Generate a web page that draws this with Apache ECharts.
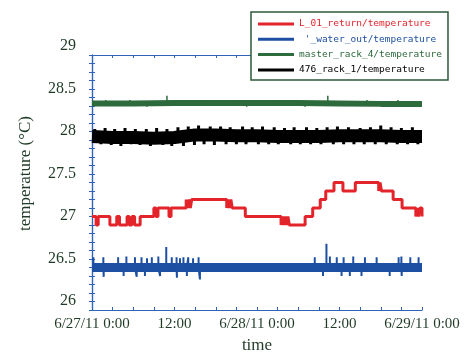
<!DOCTYPE html>
<html><head><meta charset="utf-8">
<script src="https://cdn.jsdelivr.net/npm/echarts@6/dist/echarts.min.js"></script>
<style>html,body{margin:0;padding:0;background:#fff}#c{width:465px;height:353px}</style>
</head><body><div id="c"></div><script>
// ---- data ----
const seriesNames = ['L_01_return/temperature', " '_water_out/temperature", 'master_rack_4/temperature', '476_rack_1/temperature'];
const xTickHours = [0, 12, 24, 36, 48];
const xTickLabels = ['6/27/11 0:00', '12:00', '6/28/11 0:00', '12:00', '6/29/11 0:00'];

// L_01_return (step values, hours since 6/27/11 0:00)
const redTimes = [0, 0.6, 0.9, 2.6, 3.6, 4.0, 5.1, 5.4, 5.8, 6.2, 7.0, 9.0, 9.3, 9.6, 11.2, 11.5, 13.7, 13.9, 14.1, 14.3, 14.5, 19.6, 19.8, 20.0, 20.2, 20.4, 22.3, 27.5, 27.7, 27.9, 28.1, 28.3, 28.5, 28.7, 28.9, 31.0, 32.1, 33.2, 34.0, 35.2, 36.5, 38.3, 41.7, 41.9, 42.1, 43.8, 45.1, 47.1, 47.3, 47.5, 47.7, 48];
const redValues = [27.0, 26.9, 27.0, 26.9, 27.0, 26.9, 27.0, 26.9, 27.0, 26.9, 27.0, 27.1, 27.0, 27.1, 27.0, 27.1, 27.2, 27.1, 27.2, 27.1, 27.2, 27.1, 27.2, 27.1, 27.2, 27.1, 27.0, 26.9, 27.0, 26.9, 27.0, 26.9, 27.0, 26.9, 26.9, 27.0, 27.1, 27.2, 27.3, 27.4, 27.3, 27.4, 27.3, 27.4, 27.3, 27.2, 27.1, 27.0, 27.1, 27.0, 27.1, 27.0];

// water_out: band + spikes
const blueBandTimes = [0, 6, 12, 18, 24, 30, 36, 42, 48];
const blueBandValues = [26.40, 26.40, 26.40, 26.40, 26.40, 26.40, 26.40, 26.40, 26.40];
const blueBase = 26.40;
const blueSpikeTimes = [0.2, 1.65, 1.7, 3.8, 4.6, 5.0, 6.25, 6.5, 7.2, 7.7, 8.0, 8.7, 9.65, 9.9, 10.8, 11.6, 12.3, 12.35, 12.8, 13.3, 13.8, 14.0, 14.7, 15.5, 15.7, 32.4, 33.6, 34.1, 34.6, 35.6, 36.3, 36.6, 37.5, 38.0, 39.2, 39.7, 41.4, 43.3, 44.6, 45.0, 45.05, 46.3, 47.5];
const blueSpikePeaks = [26.52, 26.52, 26.29, 26.52, 26.3, 26.53, 26.52, 26.29, 26.52, 26.3, 26.51, 26.52, 26.53, 26.3, 26.64, 26.52, 26.52, 26.28, 26.51, 26.52, 26.3, 26.52, 26.51, 26.52, 26.26, 26.52, 26.3, 26.68, 26.53, 26.52, 26.3, 26.52, 26.3, 26.53, 26.3, 26.52, 26.52, 26.3, 26.52, 26.53, 26.3, 26.52, 26.52];

// master_rack_4: band + spikes
const greenBandTimes = [0, 6, 12, 18, 24, 30, 36, 42, 48];
const greenBandValues = [28.33, 28.33, 28.335, 28.335, 28.335, 28.335, 28.33, 28.325, 28.325];
const greenBase = 28.33;
const greenSpikeTimes = [2.0, 5.5, 8.0, 10.9, 16.0, 20.5, 22.5, 27.0, 31.0, 34.3, 40.0, 44.5];
const greenSpikePeaks = [28.37, 28.37, 28.29, 28.42, 28.37, 28.37, 28.29, 28.37, 28.29, 28.42, 28.37, 28.37];

// 476_rack_1: band + spikes
const blackBandTimes = [0, 3, 6, 9, 12, 15, 18, 21, 24, 27, 30, 33, 36, 39, 42, 45, 48];
const blackBandValues = [27.94, 27.93, 27.93, 27.92, 27.93, 27.96, 27.96, 27.95, 27.95, 27.94, 27.94, 27.94, 27.95, 27.95, 27.95, 27.94, 27.94];
const blackBase = 27.94;
const blackSpikeTimes = [0.4, 1.3, 1.9, 2.8, 3.3, 4.2, 4.8, 5.7, 6.3, 7.0, 7.9, 8.5, 9.4, 10.3, 10.9, 11.6, 12.5, 13.3, 14.0, 14.9, 15.5, 16.3, 17.2, 17.8, 18.7, 19.5, 20.1, 21.0, 21.9, 22.4, 23.3, 24.2, 24.8, 25.7, 26.5, 27.1, 28.0, 28.9, 29.4, 30.3, 31.2, 31.8, 32.7, 33.3, 34.2, 35.1, 35.7, 36.6, 37.3, 38.1, 39.0, 39.6, 40.5, 41.2, 42.0, 42.8, 43.5, 44.4, 45.0, 45.9, 46.6, 47.4];
const blackSpikePeaks = [28.03, 27.85, 28.04, 27.84, 28.03, 27.83, 28.04, 27.85, 28.03, 27.84, 28.03, 27.83, 28.04, 27.84, 28.03, 27.83, 28.05, 27.83, 28.06, 27.84, 28.07, 27.85, 28.06, 27.84, 28.06, 27.85, 28.05, 27.85, 28.06, 27.85, 28.05, 27.85, 28.06, 27.85, 28.05, 27.85, 28.04, 27.85, 28.05, 27.85, 28.05, 27.85, 28.04, 27.85, 28.05, 27.85, 28.06, 27.85, 28.05, 27.85, 28.04, 27.85, 28.05, 27.85, 28.07, 27.85, 28.05, 27.85, 28.04, 27.85, 28.05, 27.85];

// ---- build ----
const colors = ['#e3242b', '#1d4fa2', '#2d6a3c', '#000000'];
const frameColor = '#2f62b8';
const textColor = '#1f3a26';
const pairs = (xs, ys) => xs.map((x, i) => [x, ys[i]]);
const spikes = (xs, ps, base) => {
  const out = [];
  xs.forEach((x, i) => { out.push([x, base], [x, ps[i]], [x, base]); });
  return out;
};
const xLabelMap = {};
xTickHours.forEach((h, i) => { xLabelMap[h] = xTickLabels[i]; });

const chart = echarts.init(document.getElementById('c'), null, {renderer: 'canvas'});
const serif = 'Liberation Serif';
const frameAxisX = (pos) => ({
  type: 'value', gridIndex: 1, position: pos, min: 0, max: 48, interval: 3,
  axisLine: {show: true, lineStyle: {color: frameColor, width: 1.2}},
  axisTick: {show: true, inside: true, length: 3, lineStyle: {color: frameColor, width: 1}},
  splitLine: {show: false}
});
const frameAxisY = (pos) => ({
  type: 'value', gridIndex: 1, position: pos, min: 25.9, max: 28.9, interval: 0.1,
  axisLine: {show: true, lineStyle: {color: frameColor, width: 1.2}},
  axisTick: {show: true, inside: true, length: 3, lineStyle: {color: frameColor, width: 1}},
  axisLabel: {show: false}, splitLine: {show: false}
});
const xBottom = frameAxisX('bottom');
xBottom.axisLabel = {show: true, margin: 7, fontFamily: serif, fontSize: 15, color: textColor,
  formatter: (v) => (xLabelMap[v] !== undefined ? xLabelMap[v] : ''), showMinLabel: true, showMaxLabel: true};
xBottom.name = 'time'; xBottom.nameLocation = 'middle'; xBottom.nameGap = 26;
xBottom.nameTextStyle = {fontFamily: serif, fontSize: 17, color: textColor};
const xTop = frameAxisX('top');
xTop.axisLabel = {show: false};

const common = {type: 'line', symbol: 'none', animation: false, xAxisIndex: 1, yAxisIndex: 1};
const option = {
  backgroundColor: '#ffffff',
  animation: false,
  grid: [
    {left: 92, right: 43, top: 46, bottom: 52, outerBoundsMode: 'none', containLabel: false},
    {left: 92, right: 43, top: 55, bottom: 43, outerBoundsMode: 'none', containLabel: false}
  ],
  xAxis: [
    {type: 'value', gridIndex: 0, min: 0, max: 48, show: false},
    xBottom, xTop
  ],
  yAxis: [
    {type: 'value', gridIndex: 0, min: 26, max: 29, interval: 0.5,
     axisLine: {show: false}, axisTick: {show: false}, splitLine: {show: false},
     axisLabel: {show: true, margin: 16, fontFamily: serif, fontSize: 16, color: textColor},
     name: 'temperature (°C)', nameLocation: 'middle', nameGap: 58,
     nameTextStyle: {fontFamily: serif, fontSize: 17, color: textColor}},
    frameAxisY('left'), frameAxisY('right')
  ],
  legend: {
    orient: 'vertical', left: 251, top: 12,
    padding: [6, 6, 4, 7], itemGap: 3.3, itemWidth: 36, itemHeight: 3, icon: 'rect',
    backgroundColor: '#ffffff', borderColor: '#2d5a3a', borderWidth: 1.5,
    textStyle: {fontFamily: 'DejaVu Sans Mono', fontSize: 9.5, lineHeight: 12},
    data: seriesNames.map((n, i) => ({name: n, textStyle: {color: colors[i]}})),
    selectedMode: false
  },
  series: [
    Object.assign({}, common, {name: seriesNames[2], data: pairs(greenBandTimes, greenBandValues),
      color: colors[2], lineStyle: {color: colors[2], width: 6}, itemStyle: {color: colors[2]}}),
    Object.assign({}, common, {name: 'g_sp', data: spikes(greenSpikeTimes, greenSpikePeaks, greenBase),
      color: colors[2], lineStyle: {color: colors[2], width: 1.5}}),
    Object.assign({}, common, {name: seriesNames[3], data: pairs(blackBandTimes, blackBandValues),
      color: colors[3], lineStyle: {color: colors[3], width: 13}, itemStyle: {color: colors[3]}}),
    Object.assign({}, common, {name: 'k_sp', data: spikes(blackSpikeTimes, blackSpikePeaks, blackBase),
      color: colors[3], lineStyle: {color: colors[3], width: 3}}),
    Object.assign({}, common, {name: seriesNames[1], data: pairs(blueBandTimes, blueBandValues),
      color: colors[1], lineStyle: {color: colors[1], width: 9}, itemStyle: {color: colors[1]}}),
    Object.assign({}, common, {name: 'b_sp', data: spikes(blueSpikeTimes, blueSpikePeaks, blueBase),
      color: colors[1], lineStyle: {color: colors[1], width: 2}}),
    Object.assign({}, common, {name: seriesNames[0], data: pairs(redTimes, redValues), step: 'end',
      color: colors[0], lineStyle: {color: colors[0], width: 3}, itemStyle: {color: colors[0]}})
  ]
};
chart.setOption(option);
</script></body></html>
